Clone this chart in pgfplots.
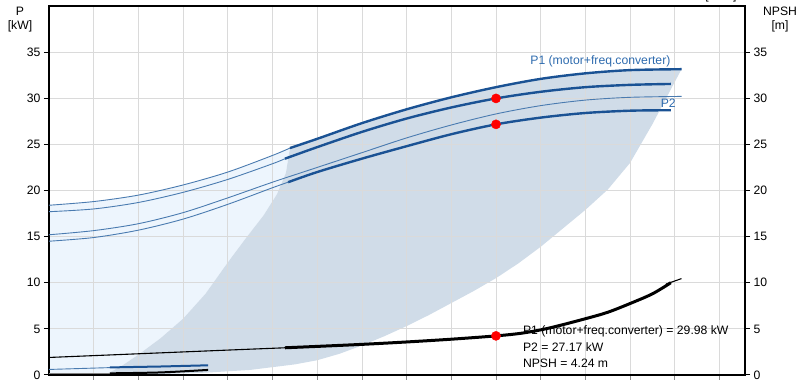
\documentclass[border=0pt]{standalone}
\usepackage{fontspec}
\setmainfont{Liberation Sans}
\usepackage{pgfplots}
\pgfplotsset{compat=1.18}
\definecolor{pblue}{HTML}{1A5294}
\definecolor{pthin}{HTML}{4A7BB0}
\definecolor{lblue}{HTML}{2E6BAE}
\definecolor{darkfill}{HTML}{D0DCE8}
\definecolor{lightfill}{HTML}{EDF5FD}
\definecolor{gridc}{HTML}{DADADA}
\definecolor{axgray}{HTML}{8C8C8C}
\begin{document}
\begin{tikzpicture}[font=\fontsize{12.2}{14}\selectfont]
\begin{axis}[name=main, set layers, scale only axis, width=696pt, height=369pt,
  xmin=0, xmax=15.57, ymin=0, ymax=40, clip=false,
  xtick={1,...,15}, xticklabels={}, xtick pos=left,
  ytick={0,5,...,35}, ytick pos=left,
  tick align=outside, major tick length=5pt,
  x tick style={axgray, line width=0.8pt},
  y tick style={black, line width=1pt},
  grid=major, grid style={gridc, line width=0.8pt},
  x axis line style={axgray, line width=0.9pt},
  y axis line style={black, line width=1.3pt},
  /pgf/number format/assume math mode=true,
  yticklabel style={font=\fontsize{12.2}{14}\selectfont},
]
% light region
\addplot[on layer=axis background, fill=lightfill, draw=none] coordinates {
 (0,0) (0,18.4) (0.5,18.55) (1,18.8) (1.5,19.1) (2,19.5) (2.5,20.0) (3,20.6) (3.5,21.25) (4,22.0) (4.5,22.85) (5,23.8) (5.39,24.6)
 (5.3,21.9) (5.1,19.6) (4.8,17.3) (4.4,14.8) (4.0,12.2) (3.5,8.8) (3.0,6.1)
 (2.5,4.0) (2.0,2.2) (1.6,0.9) (1.25,0)};
% dark region
\addplot[on layer=axis background, fill=darkfill, draw=none] coordinates {
 (1.25,0) (1.6,0.9) (2.0,2.2) (2.5,4.0) (3.0,6.1) (3.5,8.8) (4.0,12.2) (4.4,14.8)
 (4.8,17.3) (5.1,19.6) (5.3,21.9) (5.39,24.6) (6,25.6) (6.5,26.45) (7,27.3) (7.5,28.05)
 (8,28.8) (8.5,29.45) (9,30.1) (9.5,30.65) (10,31.2) (10.5,31.65) (11,32.1) (11.5,32.4)
 (12,32.7) (12.5,32.9) (13,33.05) (13.5,33.12) (14.15,33.15)
 (13.5,27.2) (13.0,23.0) (12.5,20.1) (12.0,17.9) (11.5,15.9) (11.0,13.9)
 (10.5,12.1) (10.0,10.5) (9.5,9.1) (9.0,7.8) (8.5,6.5) (8.0,5.3) (7.5,4.2)
 (7.0,3.2) (6.5,2.3) (6.0,1.6) (5.5,1.15) (4.5,0.55) (3.5,0.25) (2.5,0.1) (1.25,0)};
% P curves thin
\addplot[pthin, line width=0.9pt, smooth] coordinates {(0,18.4) (1,18.8) (2,19.5) (3,20.6) (4,22.0) (5,23.8) (5.39,24.6)};
\addplot[pthin, line width=0.9pt, smooth] coordinates {(0,17.7) (1,18.0) (2,18.7) (3,19.8) (4,21.2) (5,22.9) (5.28,23.45)};
\addplot[pthin, line width=0.9pt, smooth] coordinates {(0,15.2) (1,15.65) (2,16.4) (3,17.6) (4,19.2) (5,20.9) (6,22.5) (7,24.1) (8,25.7) (9,27.1) (10,28.3) (11,29.2) (12,29.8) (13,30.1) (14.15,30.2)};
\addplot[pthin, line width=0.9pt, smooth] coordinates {(0,14.5) (1,14.9) (2,15.7) (3,16.9) (4,18.5) (5,20.3) (5.35,20.9)};
% P curves thick
\addplot[pblue, line width=2.4pt, smooth] coordinates {(5.39,24.6) (6,25.6) (7,27.3) (8,28.8) (9,30.1) (10,31.2) (11,32.1) (12,32.7) (13,33.05) (14.15,33.15)};
\addplot[pblue, line width=2.4pt, smooth] coordinates {(5.28,23.45) (6,24.7) (7,26.35) (8,27.8) (9,29.0) (10,29.98) (11,30.7) (12,31.2) (13,31.45) (13.91,31.55)};
\addplot[pblue, line width=2.4pt, smooth] coordinates {(5.35,20.9) (6,22.0) (7,23.45) (8,24.8) (9,26.1) (10,27.17) (11,27.9) (12,28.4) (13,28.65) (13.91,28.7)};
% NPSH
\addplot[black, line width=1.1pt, smooth] coordinates {(0,1.9) (1,2.1) (2,2.3) (3,2.5) (4,2.7) (5.28,2.95)};
\addplot[black, line width=3pt, smooth] coordinates {(5.28,2.95) (6,3.1) (7,3.32) (8,3.58) (9,3.88) (10,4.24) (10.6,4.55) (11.2,5.1) (12,6.1) (12.5,6.8) (13,7.75) (13.5,8.8) (13.91,10.0)};
\addplot[black, line width=1.1pt] coordinates {(13.8,9.85) (14.15,10.45)};
% small low curves
\addplot[pthin, line width=0.9pt] coordinates {(0,0.6) (1.36,0.8)};
\addplot[pblue, line width=2pt] coordinates {(1.36,0.82) (2.5,0.92) (3.56,1.05)};
\addplot[gray, line width=1pt] coordinates {(0,0.2) (1.36,0.2)};
\addplot[black, line width=2pt, smooth] coordinates {(1.36,0.18) (2.5,0.28) (3.56,0.55)};
% operating points
\addplot[only marks, mark=*, mark size=4.6pt, red, mark options={draw=red, fill=red}] coordinates {(10,29.98) (10,27.17) (10,4.24)};
% labels
\node[anchor=base east, text=lblue] at (axis cs:13.98,33.7) {P1 (motor+freq.converter)};
\node[anchor=base east, text=lblue] at (axis cs:14.1,29.0) {P2};
\node[anchor=base west, inner sep=0pt] at (axis cs:10.6,4.35) {P1 (motor+freq.converter) = 29.98 kW};
\node[anchor=base west, inner sep=0pt] at (axis cs:10.6,2.53) {P2 = 27.17 kW};
\node[anchor=base west, inner sep=0pt] at (axis cs:10.6,0.84) {NPSH = 4.24 m};
\node[anchor=base west, inner sep=0pt] at (axis cs:14.68,40.73) {[m³/h]};
\end{axis}
\begin{axis}[at={(main.south west)}, anchor=south west, scale only axis, width=696pt, height=369pt,
  xmin=0, xmax=15.57, ymin=0, ymax=40,
  xtick=\empty, ytick={0,5,...,35}, ytick pos=right,
  tick align=outside, major tick length=5pt,
  y tick style={black, line width=1pt},
  axis line style={draw=none},
  /pgf/number format/assume math mode=true,
  yticklabel style={font=\fontsize{12.2}{14}\selectfont},
]
\addplot[draw=none] coordinates {(0,0)};
\end{axis}
\node[anchor=base, inner sep=0pt] at ([xshift=-29pt,yshift=-10pt]main.north west) {P};
\node[anchor=base, inner sep=0pt] at ([xshift=-29pt,yshift=-23.3pt]main.north west) {[kW]};
\node[anchor=base, inner sep=0pt] at ([xshift=35pt,yshift=-10pt]main.north east) {NPSH};
\node[anchor=base, inner sep=0pt] at ([xshift=35pt,yshift=-23.3pt]main.north east) {[m]};
\pgfresetboundingbox
\useasboundingbox ([xshift=-49pt,yshift=-11pt]main.south west) rectangle ([xshift=55pt,yshift=6pt]main.north east);
\end{tikzpicture}
\end{document}
